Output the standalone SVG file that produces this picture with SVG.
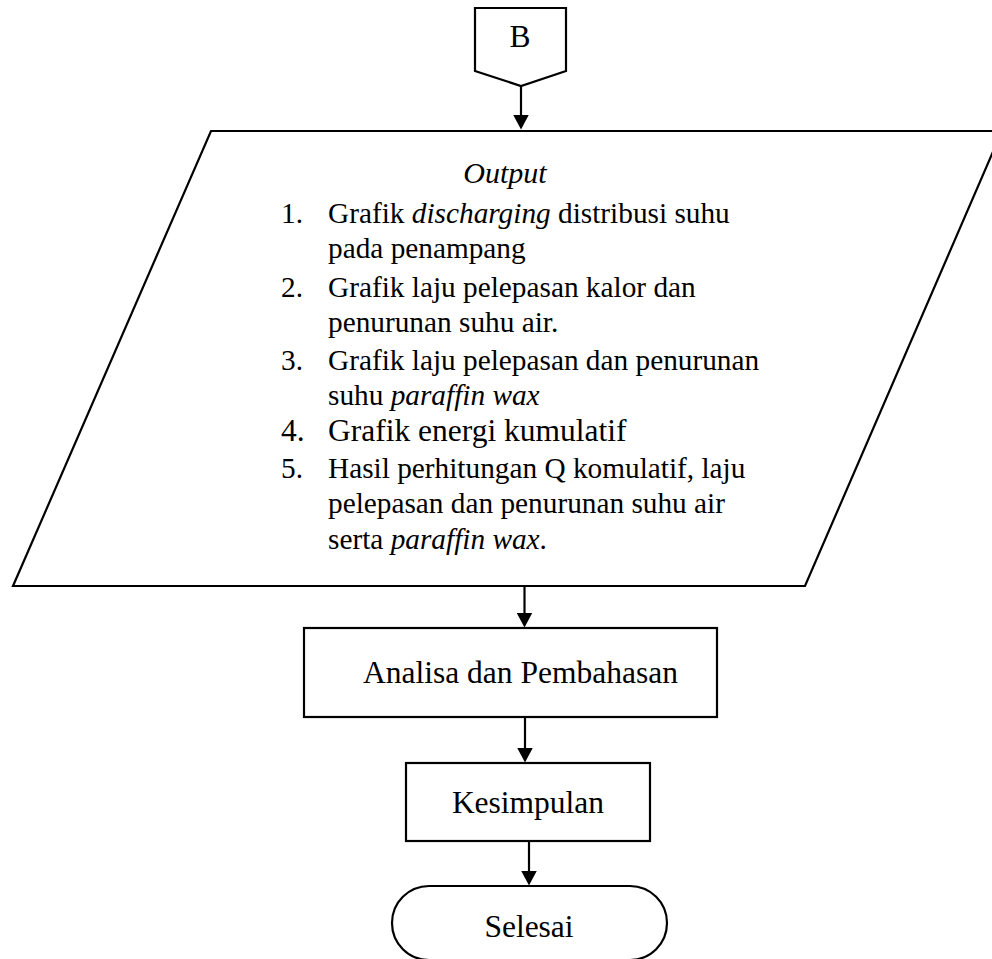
<svg xmlns="http://www.w3.org/2000/svg" width="992" height="959" viewBox="0 0 992 959">
  <defs>
    <marker id="head" viewBox="0 0 15 16" markerWidth="15" markerHeight="16" refX="0.5" refY="8" orient="auto" markerUnits="userSpaceOnUse">
      <path d="M0,0 L15,8 L0,16 z" fill="#000"/>
    </marker>
  </defs>
  <style>
    .shape { fill: #fff; stroke: #000; stroke-width: 2.2; stroke-linejoin: miter; }
    .edge { fill: none; stroke: #000; stroke-width: 2.2; marker-end: url(#head); }
    .lbl { font-family: "Liberation Serif", "Times New Roman", serif; font-size: 31.5px; fill: #000; }
    .item { font-family: "Liberation Serif", "Times New Roman", serif; font-size: 29.3px; fill: #000; }
    .it { font-style: italic; }
  </style>
  <rect width="992" height="959" fill="#fff"/>

  <!-- off-page connector -->
  <g id="connector-b">
    <polygon class="shape" points="475,8 566,8 566,71 521,86 475,71"/>
    <text class="lbl" x="520" y="47" text-anchor="middle">B</text>
  </g>

  <!-- output data block -->
  <g id="output">
    <polygon class="shape" points="211,131 1002,131 805,586 13,586"/>
    <text class="item it" x="505" y="183" text-anchor="middle" style="font-size:30px">Output</text>
    <text class="item" x="281" y="223">1.</text>
    <text class="item" x="328" y="223">Grafik <tspan class="it">discharging</tspan> distribusi suhu</text>
    <text class="item" x="328" y="258">pada penampang</text>
    <text class="item" x="281" y="297">2.</text>
    <text class="item" x="328" y="297">Grafik laju pelepasan kalor dan</text>
    <text class="item" x="328" y="332">penurunan suhu air.</text>
    <text class="item" x="281" y="370">3.</text>
    <text class="item" x="328" y="370">Grafik laju pelepasan dan penurunan</text>
    <text class="item" x="328" y="405">suhu <tspan class="it">paraffin wax</tspan></text>
    <text class="item" x="281" y="441" style="font-size:31.5px">4.</text>
    <text class="item" x="328" y="441" style="font-size:31.5px">Grafik energi kumulatif</text>
    <text class="item" x="281" y="478">5.</text>
    <text class="item" x="328" y="478">Hasil perhitungan Q komulatif, laju</text>
    <text class="item" x="328" y="513">pelepasan dan penurunan suhu air</text>
    <text class="item" x="328" y="549">serta <tspan class="it">paraffin wax</tspan>.</text>
  </g>

  <g id="analisa">
    <rect class="shape" x="304" y="628" width="413" height="89"/>
    <text class="lbl" x="363" y="683">Analisa dan Pembahasan</text>
  </g>

  <g id="kesimpulan">
    <rect class="shape" x="406" y="763" width="244" height="78"/>
    <text class="lbl" x="528" y="813" text-anchor="middle">Kesimpulan</text>
  </g>

  <g id="selesai">
    <rect class="shape" x="392" y="886" width="275" height="74" rx="37" ry="37"/>
    <text class="lbl" x="529" y="937" text-anchor="middle">Selesai</text>
  </g>

  <!-- flow lines -->
  <g id="connectors">
    <line class="edge" x1="521" y1="86" x2="521" y2="115"/>
    <line class="edge" x1="524.5" y1="586" x2="524.5" y2="613"/>
    <line class="edge" x1="525" y1="717" x2="525" y2="748"/>
    <line class="edge" x1="529" y1="841" x2="529" y2="871"/>
  </g>
</svg>
